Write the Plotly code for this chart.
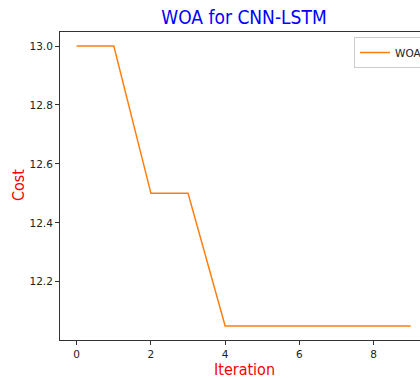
import plotly.graph_objects as go

iterations = [0, 1, 2, 3, 4, 5, 6, 7, 8, 9]
cost = [13.0, 13.0, 12.5, 12.5, 12.05, 12.05, 12.05, 12.05, 12.05, 12.05]
x_ticks = [0, 2, 4, 6, 8]
y_ticks = [12.2, 12.4, 12.6, 12.8, 13.0]

W, H = 420, 379
L, T, B, R = 60, 32, 39, 0

label_font = "DejaVu Sans Condensed, Liberation Sans Narrow, DejaVu Sans, sans-serif"

fig = go.Figure()
fig.add_trace(go.Scatter(x=iterations, y=cost, mode="lines", name="WOA",
                         line=dict(color="#ff7f0e", width=1.5)))

fig.update_layout(
    width=W, height=H,
    margin=dict(l=L, r=R, t=T, b=B, pad=0, autoexpand=False),
    paper_bgcolor="white", plot_bgcolor="white",
    font=dict(family="DejaVu Sans, sans-serif", size=10.5, color="#222"),
    showlegend=True,
    legend=dict(x=(354 - L) / (W - L - R), y=(H - B - 37) / (H - T - B),
                xanchor="left", yanchor="top",
                bgcolor="white", bordercolor="#cccccc", borderwidth=1,
                font=dict(size=10.5, color="#222"), itemwidth=30,
                tracegroupgap=0),
    title=dict(text="WOA for CNN-LSTM", x=244 / W, xref="container", xanchor="center",
               y=1 - 17 / H, yref="container", yanchor="middle",
               font=dict(family=label_font, size=19, color="blue")),
    annotations=[
        dict(text="Iteration", xref="paper", yref="paper", showarrow=False,
             x=(245 - L) / (W - L - R), y=-(369 - (H - B)) / (H - T - B),
             xanchor="center", yanchor="middle",
             font=dict(family=label_font, size=16, color="red")),
        dict(text="Cost", xref="paper", yref="paper", showarrow=False, textangle=-90,
             x=-(L - 18) / (W - L - R), y=(H - B - 185) / (H - T - B),
             xanchor="center", yanchor="middle",
             font=dict(family=label_font, size=16, color="red")),
    ],
)

fig.update_xaxes(range=[-0.45, 9.25], tickvals=x_ticks, ticktext=[str(v) for v in x_ticks],
                 showgrid=False, zeroline=False, showline=True, linecolor="#333", linewidth=1,
                 mirror=True, ticks="outside", ticklen=4, tickcolor="#333", tickwidth=1)
fig.update_yaxes(range=[12.0025, 13.0475], tickvals=y_ticks, ticktext=[f"{v:.1f}" for v in y_ticks],
                 showgrid=False, zeroline=False, showline=True, linecolor="#333", linewidth=1,
                 mirror=False, ticks="outside", ticklen=4, tickcolor="#333", tickwidth=1)

fig.write_html("out.html")
